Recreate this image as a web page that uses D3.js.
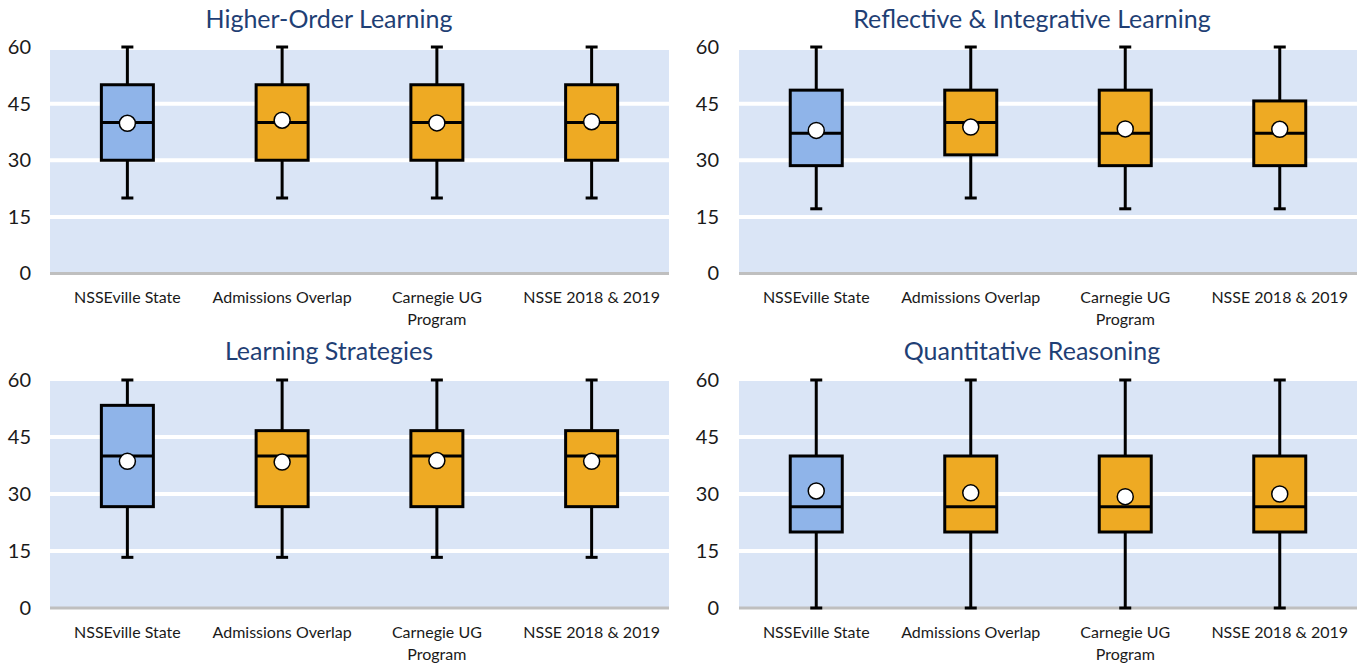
<!DOCTYPE html>
<html>
<head>
<meta charset="utf-8">
<script src="https://cdn.jsdelivr.net/npm/d3@7"></script>
<style>
  body { margin: 0; background: #fff; }
  svg { display: block; font-family: Lato, "Open Sans", sans-serif; }
</style>
</head>
<body>
<div id="chart-area"></div>
<script>
// Categories and tick labels
var groups = ["NSSEville State", "Admissions Overlap", "Carnegie UG Program", "NSSE 2018 & 2019"];
var yTicks = [0, 15, 30, 45, 60];
var titles = ["Higher-Order Learning", "Reflective & Integrative Learning", "Learning Strategies", "Quantitative Reasoning"];

// Higher-Order Learning
var holMin = [20, 20, 20, 20];
var holQ1 = [30, 30, 30, 30];
var holMed = [40, 40, 40, 40];
var holQ3 = [50, 50, 50, 50];
var holMax = [60, 60, 60, 60];
var holMean = [39.8, 40.6, 39.9, 40.2];

// Reflective & Integrative Learning
var rilMin = [17.14, 20, 17.14, 17.14];
var rilQ1 = [28.57, 31.43, 28.57, 28.57];
var rilMed = [37.14, 40, 37.14, 37.14];
var rilQ3 = [48.57, 48.57, 48.57, 45.71];
var rilMax = [60, 60, 60, 60];
var rilMean = [37.9, 38.8, 38.3, 38.2];

// Learning Strategies
var lsMin = [13.33, 13.33, 13.33, 13.33];
var lsQ1 = [26.67, 26.67, 26.67, 26.67];
var lsMed = [40, 40, 40, 40];
var lsQ3 = [53.33, 46.67, 46.67, 46.67];
var lsMax = [60, 60, 60, 60];
var lsMean = [38.6, 38.4, 38.8, 38.6];

// Quantitative Reasoning
var qrMin = [0, 0, 0, 0];
var qrQ1 = [20, 20, 20, 20];
var qrMed = [26.67, 26.67, 26.67, 26.67];
var qrQ3 = [40, 40, 40, 40];
var qrMax = [60, 60, 60, 60];
var qrMean = [30.8, 30.3, 29.3, 30.0];

function rows(mins, q1s, meds, q3s, maxs, means) {
	return groups.map((g, i) => ({
		group: g, min: mins[i], q1: q1s[i], med: meds[i], q3: q3s[i], max: maxs[i], mean: means[i]
	}));
}

var panelData = [
	rows(holMin, holQ1, holMed, holQ3, holMax, holMean),
	rows(rilMin, rilQ1, rilMed, rilQ3, rilMax, rilMean),
	rows(lsMin, lsQ1, lsMed, lsQ3, lsMax, lsMean),
	rows(qrMin, qrQ1, qrMed, qrQ3, qrMax, qrMean)
];

// Panel layout (pixels)
var layout = [
	{ x0: 50, x1: 669, yTop: 47, yBot: 273.5, bgTop: 50, titleX: 329, titleY: 28, tickX: 31, labelY: 303 },
	{ x0: 739, x1: 1357, yTop: 47, yBot: 273.5, bgTop: 50, titleX: 1032, titleY: 28, tickX: 719, labelY: 303 },
	{ x0: 50, x1: 669, yTop: 380, yBot: 608, bgTop: 381, titleX: 329, titleY: 360, tickX: 31, labelY: 638 },
	{ x0: 739, x1: 1357, yTop: 380, yBot: 608, bgTop: 381, titleX: 1032, titleY: 360, tickX: 719, labelY: 638 }
];

var width = 1359, height = 665;
var boxW = 52, capW = 12;

var svg = d3.select("#chart-area")
	.append("svg")
		.attr("width", width)
		.attr("height", height);

// wrap category labels into lines that fit the band
function wrap(text, maxW) {
	text.each(function() {
		var t = d3.select(this);
		var words = t.text().split(" ");
		var x = t.attr("x");
		t.text(null);
		var line = [];
		var tspan = t.append("tspan").attr("x", x).attr("dy", 0);
		words.forEach((w) => {
			line.push(w);
			tspan.text(line.join(" "));
			if (tspan.node().getComputedTextLength() > maxW && line.length > 1) {
				line.pop();
				tspan.text(line.join(" "));
				line = [w];
				tspan = t.append("tspan").attr("x", x).attr("dy", 22).text(w);
			}
		});
	});
}

panelData.forEach((data, p) => {
	var L = layout[p];
	var g = svg.append("g");

	var x = d3.scaleBand()
		.domain(groups)
		.range([L.x0, L.x1]);

	var y = d3.scaleLinear()
		.domain([0, 60])
		.range([L.yBot, L.yTop]);

	// plot background
	g.append("rect")
		.attr("x", L.x0)
		.attr("y", L.bgTop)
		.attr("width", L.x1 - L.x0)
		.attr("height", y(0) - L.bgTop)
		.attr("fill", "#DAE5F6");

	// gridlines
	g.selectAll(".grid")
		.data(yTicks.filter((t) => t > 0 && t < 60))
		.enter()
		.append("line")
			.attr("x1", L.x0)
			.attr("x2", L.x1)
			.attr("y1", (d) => y(d))
			.attr("y2", (d) => y(d))
			.attr("stroke", "#fff")
			.attr("stroke-width", 4);

	// y axis labels
	var yAxisCall = d3.axisLeft(y)
		.tickValues(yTicks)
		.tickSize(0)
		.tickPadding(0);
	var yAxis = g.append("g")
		.attr("transform", `translate(${L.tickX},0)`)
		.call(yAxisCall);
	yAxis.select(".domain").remove();
	yAxis.selectAll("text")
		.attr("font-family", "Lato, sans-serif")
		.attr("font-size", 20)
		.attr("fill", "#1a1a1a");

	// x axis line
	g.append("line")
		.attr("x1", L.x0)
		.attr("x2", L.x1)
		.attr("y1", y(0))
		.attr("y2", y(0))
		.attr("stroke", "#BFBFBF")
		.attr("stroke-width", 3);

	// x labels
	g.selectAll(".xlab")
		.data(groups)
		.enter()
		.append("text")
			.attr("x", (d) => x(d) + x.bandwidth() / 2)
			.attr("y", L.labelY)
			.attr("text-anchor", "middle")
			.attr("font-size", 16)
			.attr("fill", "#1a1a1a")
			.text((d) => d)
			.call(wrap, 150);

	// title
	g.append("text")
		.attr("x", L.titleX)
		.attr("y", L.titleY)
		.attr("text-anchor", "middle")
		.attr("font-size", 25)
		.attr("fill", "#1F3F75")
		.text(titles[p]);

	var box = g.selectAll(".box")
		.data(data)
		.enter()
		.append("g");

	var cx = (d) => x(d.group) + x.bandwidth() / 2;

	// whiskers
	box.append("line")
		.attr("x1", cx).attr("x2", cx)
		.attr("y1", (d) => y(d.max))
		.attr("y2", (d) => y(d.min))
		.attr("stroke", "#000")
		.attr("stroke-width", 3);

	// caps
	["max", "min"].forEach((k) => {
		box.append("line")
			.attr("x1", (d) => cx(d) - capW / 2)
			.attr("x2", (d) => cx(d) + capW / 2)
			.attr("y1", (d) => y(d[k]))
			.attr("y2", (d) => y(d[k]))
			.attr("stroke", "#000")
			.attr("stroke-width", 3);
	});

	// boxes
	box.append("rect")
		.attr("x", (d) => cx(d) - boxW / 2)
		.attr("y", (d) => y(d.q3))
		.attr("width", boxW)
		.attr("height", (d) => y(d.q1) - y(d.q3))
		.attr("fill", (d, i) => i === 0 ? "#8FB4E9" : "#EEAA23")
		.attr("stroke", "#000")
		.attr("stroke-width", 3);

	// median
	box.append("line")
		.attr("x1", (d) => cx(d) - boxW / 2)
		.attr("x2", (d) => cx(d) + boxW / 2)
		.attr("y1", (d) => y(d.med))
		.attr("y2", (d) => y(d.med))
		.attr("stroke", "#000")
		.attr("stroke-width", 3);

	// mean marker
	box.append("circle")
		.attr("cx", cx)
		.attr("cy", (d) => y(d.mean))
		.attr("r", 8)
		.attr("fill", "#fff")
		.attr("stroke", "#000")
		.attr("stroke-width", 1.5);
});
</script>
</body>
</html>
